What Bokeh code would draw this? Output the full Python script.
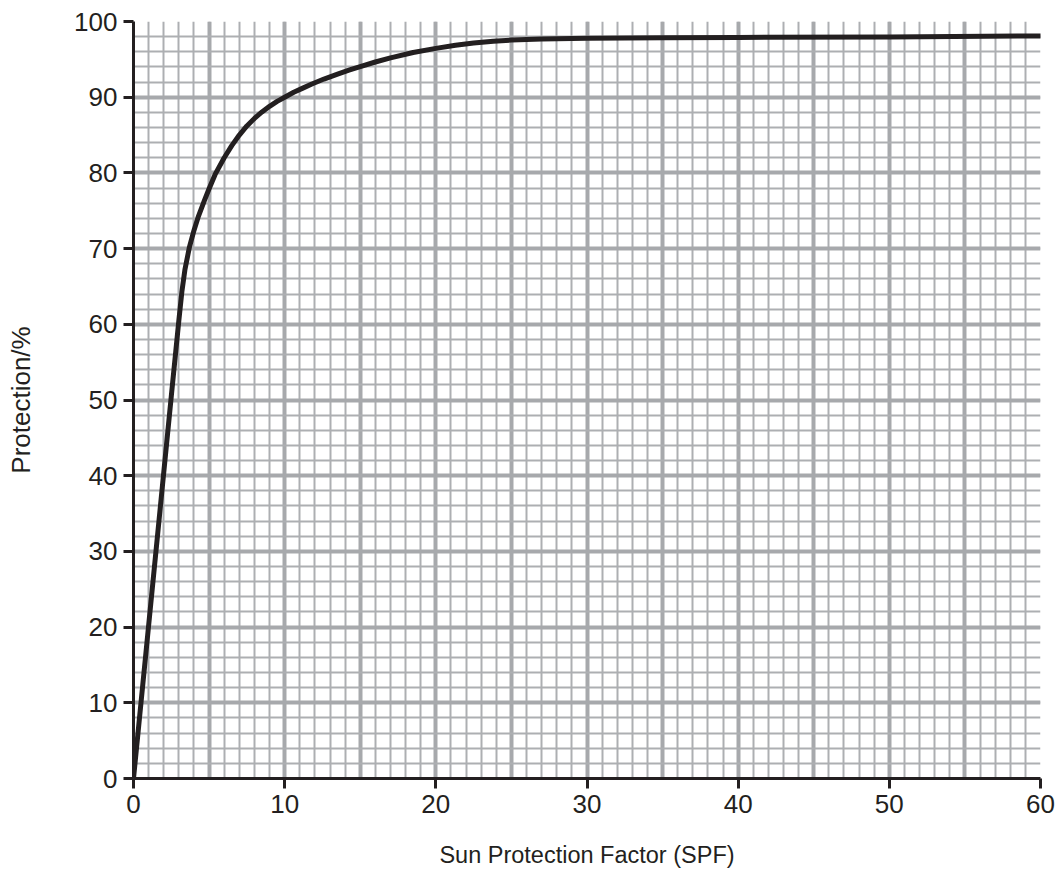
from bokeh.plotting import figure
from bokeh.models import Range1d, SingleIntervalTicker, FixedTicker
from bokeh.embed import file_html
from bokeh.resources import INLINE

# Data
spf = [0, 2.5, 2.8, 3.0, 3.2, 3.4, 3.7, 4.0, 4.3, 4.7, 5.0, 5.4, 6.0, 6.5, 7.0, 7.5, 8.0,
       8.5, 9.0, 9.5, 10.0, 10.6, 11.2, 11.8, 12.6, 13.5, 14.3, 15.0, 16.0, 17.0, 18.5,
       20.0, 21.3, 22.5, 23.8, 25.0, 27.0, 30, 35, 40, 50, 60]
protection = [0, 50.5, 56.5, 60.5, 64.3, 67.2, 70.2, 72.4, 74.3, 76.4, 77.9, 79.8, 82.0,
              83.6, 85.0, 86.2, 87.2, 88.05, 88.8, 89.45, 90.0, 90.65, 91.2, 91.75, 92.4,
              93.05, 93.6, 94.05, 94.65, 95.2, 95.9, 96.45, 96.85, 97.15, 97.4, 97.55,
              97.7, 97.8, 97.85, 97.9, 97.95, 98.1]
x_ticks = [0, 10, 20, 30, 40, 50, 60]
y_ticks = [0, 10, 20, 30, 40, 50, 60, 70, 80, 90, 100]

FONT = "Liberation Sans"
INK = "#231f20"
GRID = "#a7a9ac"

p = figure(width=1059, height=871, output_backend="svg", toolbar_location=None,
           x_range=Range1d(0, 60), y_range=Range1d(0, 100),
           min_border_left=133, min_border_right=19, min_border_top=21, min_border_bottom=93)
p.outline_line_color = None
p.background_fill_color = "white"

# grid
p.xgrid.ticker = SingleIntervalTicker(interval=5, num_minor_ticks=5)
p.ygrid.ticker = SingleIntervalTicker(interval=10, num_minor_ticks=5)
for g in (p.xgrid, p.ygrid):
    g.grid_line_color = GRID
    g.grid_line_width = 4
    g.grid_line_alpha = 1.0
    g.minor_grid_line_color = "#adafb2"
    g.minor_grid_line_width = 2

p.line(spf, protection, line_color=INK, line_width=5, line_join="round", line_cap="round")

for ax, ticks in ((p.xaxis[0], x_ticks), (p.yaxis[0], y_ticks)):
    ax.ticker = FixedTicker(ticks=ticks, minor_ticks=[])
    ax.axis_line_color = INK
    ax.axis_line_width = 3
    ax.major_tick_line_color = INK
    ax.major_tick_line_width = 3
    ax.major_tick_out = 10
    ax.major_tick_in = 0
    ax.minor_tick_line_color = None
    ax.major_label_text_font = FONT
    ax.major_label_text_font_size = "26px"
    ax.major_label_text_color = INK
    ax.major_label_standoff = 6
    ax.axis_label_text_font = FONT
    ax.axis_label_text_font_style = "normal"
    ax.axis_label_text_color = INK

p.xaxis.axis_label = "Sun Protection Factor (SPF)"
p.yaxis.axis_label = "Protection/%"
p.xaxis.axis_label_text_font_size = "23.5px"
p.yaxis.axis_label_text_font_size = "26px"
p.xaxis.axis_label_standoff = 26
p.yaxis.axis_label_standoff = 35

open("out.html", "w").write(file_html(p, INLINE))
